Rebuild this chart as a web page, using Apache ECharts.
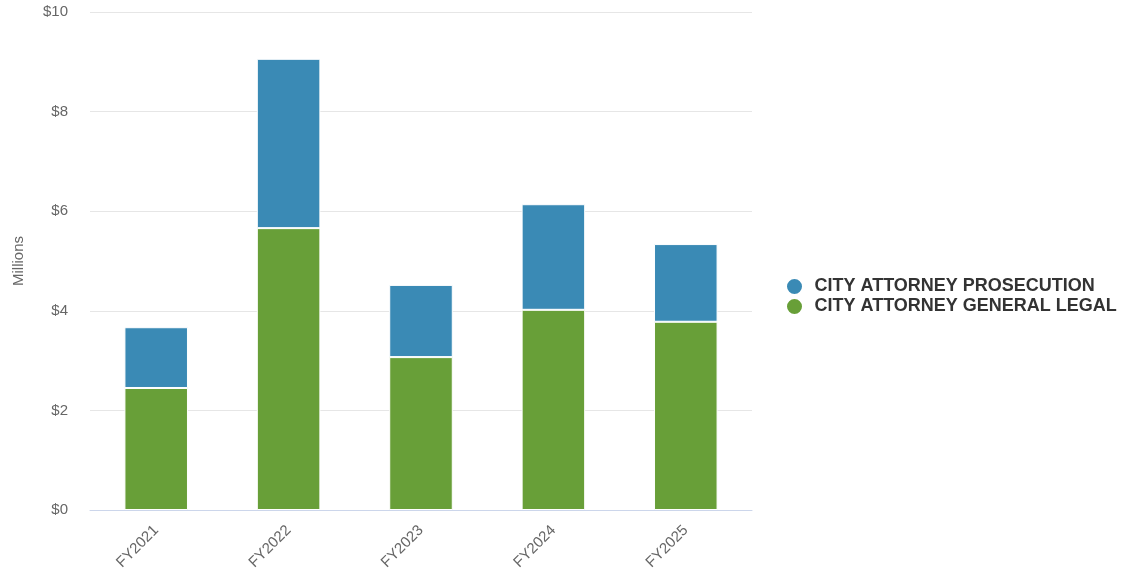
<!DOCTYPE html>
<html><head><meta charset="utf-8">
<script src="https://cdn.jsdelivr.net/npm/echarts@6/dist/echarts.min.js"></script>
<style>html,body{margin:0;padding:0;background:#fff}#c{width:1127px;height:581px}</style>
</head><body><div id="c"></div>
<script>
const categories = ['FY2021','FY2022','FY2023','FY2024','FY2025'];
const generalLegal = [2.45, 5.66, 3.07, 4.02, 3.78];
const prosecution = [1.22, 3.40, 1.45, 2.12, 1.56];
const seriesNames = ['CITY ATTORNEY PROSECUTION','CITY ATTORNEY GENERAL LEGAL'];
const yTicks = [0, 2, 4, 6, 8, 10];

const chart = echarts.init(document.getElementById('c'));
const font = '"Liberation Sans", Arial, Helvetica, sans-serif';
chart.setOption({
  animation: false,
  textStyle: {fontFamily: font},
  grid: {left: 90, right: 375, top: 12, bottom: 71},
  legend: {
    orient: 'vertical', left: 785, top: 277, padding: 0,
    data: seriesNames, icon: 'circle', itemWidth: 18, itemHeight: 17, itemGap: 1,
    textStyle: {fontSize: 18, lineHeight: 17, fontWeight: 'bold', color: '#333', fontFamily: font, padding: [0, 0, 0, 6]}
  },
  xAxis: {
    type: 'category', data: categories,
    axisLine: {lineStyle: {color: '#ccd6eb'}},
    axisTick: {show: false},
    axisLabel: {rotate: 45, fontSize: 15, color: '#666', margin: 18, fontFamily: font}
  },
  yAxis: {
    type: 'value', min: yTicks[0], max: yTicks[yTicks.length-1], interval: 2,
    name: 'Millions', nameLocation: 'middle', nameRotate: 90, nameGap: 64,
    nameTextStyle: {fontSize: 15, color: '#666', fontFamily: font},
    axisLine: {show: false}, axisTick: {show: false},
    axisLabel: {formatter: v => '$' + v, fontSize: 15, color: '#666', margin: 22, fontFamily: font},
    splitLine: {lineStyle: {color: '#e6e6e6'}}
  },
  series: [
    {name: seriesNames[1], type: 'bar', stack: 'a', data: generalLegal, barWidth: '48%',
     itemStyle: {color: '#689f38', borderColor: '#fff', borderWidth: 1}},
    {name: seriesNames[0], type: 'bar', stack: 'a', data: prosecution, barWidth: '48%',
     itemStyle: {color: '#3a8ab5', borderColor: '#fff', borderWidth: 1}}
  ]
});
</script></body></html>
